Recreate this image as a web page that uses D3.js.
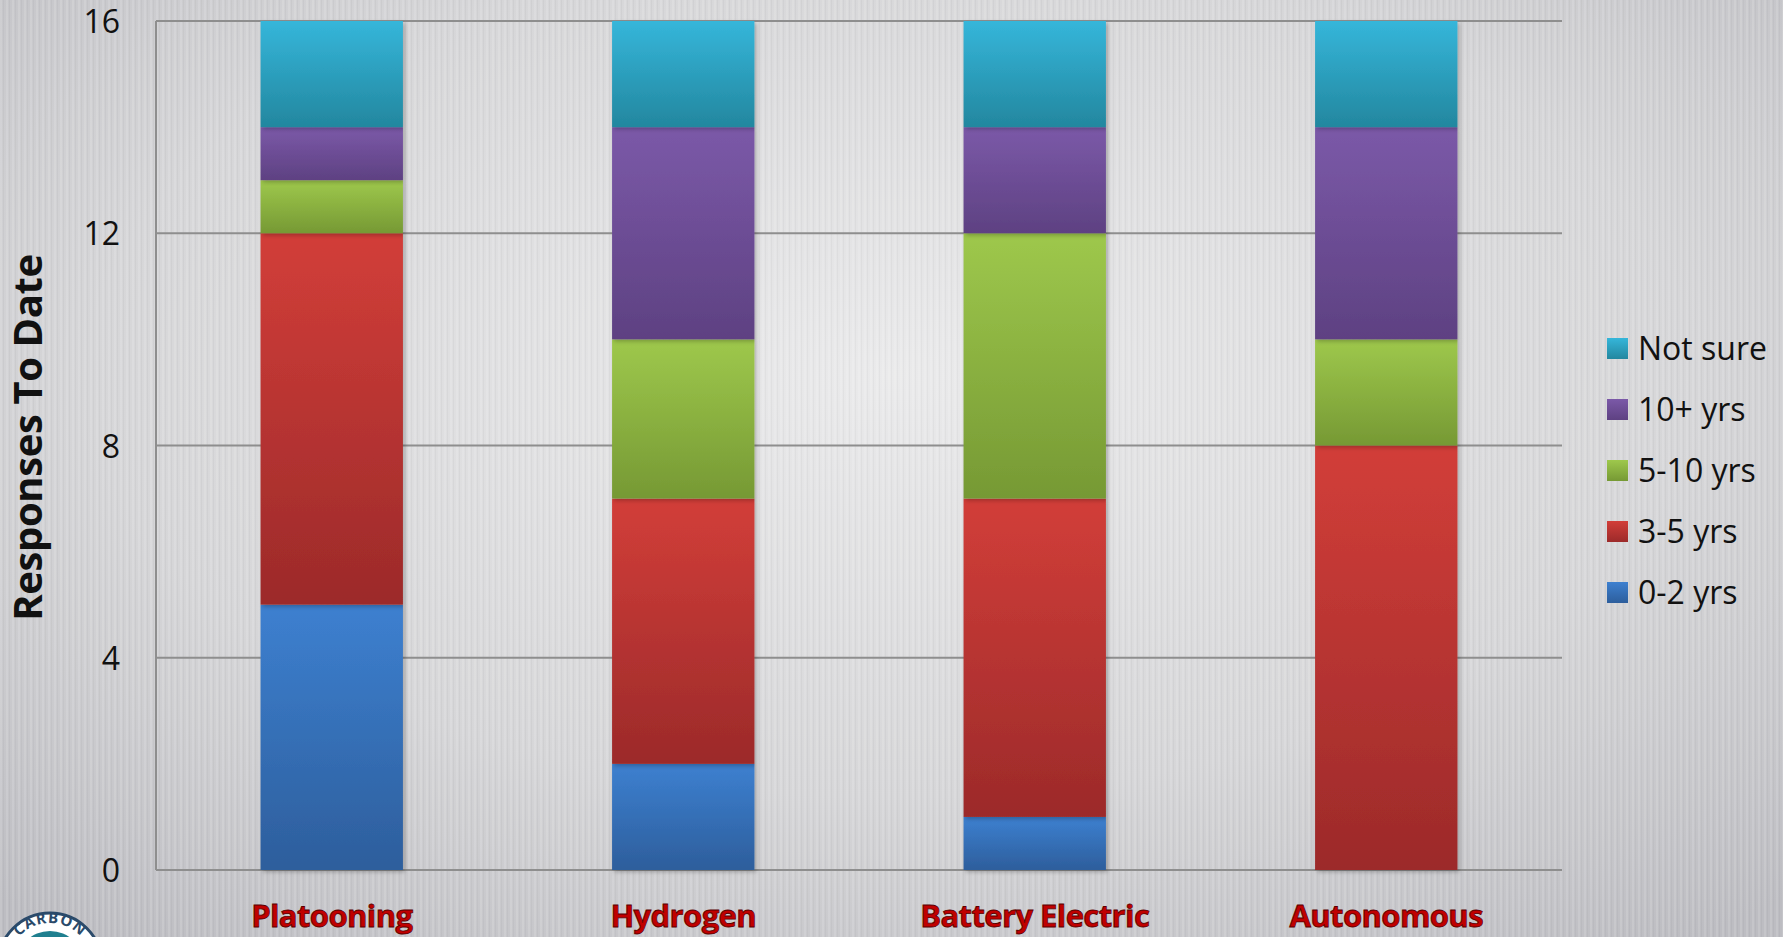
<!DOCTYPE html>
<html>
<head>
<meta charset="utf-8">
<script src="https://cdn.jsdelivr.net/npm/d3@7"></script>
<style>
  html, body { margin: 0; padding: 0; overflow: hidden; }
  svg { display: block; }
</style>
</head>
<body>
<svg id="chart" width="1783" height="937"></svg>
<script>
const categories = ["Platooning", "Hydrogen", "Battery Electric", "Autonomous"];
const seriesNames = ["0-2 yrs", "3-5 yrs", "5-10 yrs", "10+ yrs", "Not sure"];
const zeroToTwo = [5, 2, 1, 0];
const threeToFive = [7, 5, 6, 8];
const fiveToTen = [1, 3, 5, 2];
const tenPlus = [1, 4, 2, 4];
const notSure = [2, 2, 2, 2];
const yTicks = [0, 4, 8, 12, 16];

// top / bottom shade for each series gradient
const shades = {
  "0-2 yrs": ["#3d80d0", "#2d5e9c"],
  "3-5 yrs": ["#d23e39", "#9c2a2a"],
  "5-10 yrs": ["#9ec84c", "#769934"],
  "10+ yrs": ["#7b59a8", "#5e4182"],
  "Not sure": ["#35b6da", "#23879f"]
};

const rows = categories.map((c, i) => ({
  category: c,
  "0-2 yrs": zeroToTwo[i],
  "3-5 yrs": threeToFive[i],
  "5-10 yrs": fiveToTen[i],
  "10+ yrs": tenPlus[i],
  "Not sure": notSure[i]
}));

const svg = d3.select("#chart");
const width = 1783, height = 937;
const margin = { top: 21, right: 221, bottom: 67, left: 156 };
const innerW = width - margin.left - margin.right;
const innerH = height - margin.top - margin.bottom;

const defs = svg.append("defs");

// background: soft radial light in the middle, darker toward edges
const bg = defs.append("radialGradient").attr("id", "bg")
  .attr("cx", "50%").attr("cy", "40%").attr("r", "75%");
bg.append("stop").attr("offset", "0%").attr("stop-color", "#eaeaeb");
bg.append("stop").attr("offset", "60%").attr("stop-color", "#d6d6d8");
bg.append("stop").attr("offset", "100%").attr("stop-color", "#bdbdc2");

const stripes = defs.append("pattern").attr("id", "stripes")
  .attr("patternUnits", "userSpaceOnUse").attr("width", 6).attr("height", 10);
stripes.append("rect").attr("x", 0).attr("width", 2).attr("height", 10)
  .attr("fill", "#ffffff").attr("opacity", 0.12);
stripes.append("rect").attr("x", 3).attr("width", 1).attr("height", 10)
  .attr("fill", "#000000").attr("opacity", 0.03);

seriesNames.forEach((s, i) => {
  const lg = defs.append("linearGradient").attr("id", "grad" + i)
    .attr("x1", 0).attr("y1", 0).attr("x2", 0).attr("y2", 1);
  lg.append("stop").attr("offset", "0%").attr("stop-color", shades[s][0]);
  lg.append("stop").attr("offset", "100%").attr("stop-color", shades[s][1]);
});

const shadow = defs.append("filter").attr("id", "shadow")
  .attr("x", "-10%").attr("y", "-5%").attr("width", "130%").attr("height", "115%");
shadow.append("feDropShadow").attr("dx", 2).attr("dy", 2).attr("stdDeviation", 2)
  .attr("flood-color", "#000").attr("flood-opacity", 0.25);

svg.append("rect").attr("width", width).attr("height", height).attr("fill", "url(#bg)");
svg.append("rect").attr("width", width).attr("height", height).attr("fill", "url(#stripes)");

const g = svg.append("g").attr("transform", `translate(${margin.left},${margin.top})`);

const x = d3.scaleBand().domain(categories).range([0, innerW]).paddingInner(0.595).paddingOuter(0.2975);
const y = d3.scaleLinear().domain([0, 16]).range([innerH, 0]);

// gridlines
g.append("g").selectAll("line")
  .data(yTicks)
  .join("line")
  .attr("x1", 0).attr("x2", innerW)
  .attr("y1", d => y(d)).attr("y2", d => y(d))
  .attr("stroke", "#8e8e8e").attr("stroke-width", 2);

g.append("line")
  .attr("x1", 0).attr("x2", 0).attr("y1", 0).attr("y2", innerH)
  .attr("stroke", "#8e8e8e").attr("stroke-width", 2);

// y tick labels
const yAxis = g.append("g").call(d3.axisLeft(y).tickValues(yTicks).tickSize(0).tickPadding(36));
yAxis.select(".domain").remove();
yAxis.selectAll("text")
  .attr("font-family", "'Open Sans', sans-serif")
  .attr("font-size", 32)
  .attr("dy", "0.36em")
  .attr("fill", "#111");

// stacked bars
const stack = d3.stack().keys(seriesNames);
const layers = stack(rows);

g.append("g").selectAll("g")
  .data(layers)
  .join("g")
  .attr("fill", (d, i) => `url(#grad${i})`)
  .selectAll("rect")
  .data(d => d.filter(p => p[1] > p[0]))
  .join("rect")
  .attr("x", d => x(d.data.category))
  .attr("y", d => y(d[1]))
  .attr("width", x.bandwidth())
  .attr("height", d => y(d[0]) - y(d[1]))
  .attr("filter", "url(#shadow)");

// category labels
g.append("g").selectAll("text")
  .data(categories)
  .join("text")
  .attr("x", d => x(d) + x.bandwidth() / 2)
  .attr("y", innerH + 57)
  .attr("text-anchor", "middle")
  .attr("font-family", "'Open Sans', sans-serif")
  .attr("font-weight", "bold")
  .attr("font-size", 31)
  .attr("letter-spacing", -0.6)
  .attr("fill", "#c00000")
  .attr("stroke", "#5a0000")
  .attr("stroke-width", 0.8)
  .text(d => d);

// y axis title
svg.append("text")
  .attr("transform", `translate(42,${margin.top + innerH / 2 - 8}) rotate(-90)`)
  .attr("text-anchor", "middle")
  .attr("font-family", "'Open Sans', sans-serif")
  .attr("font-weight", "bold")
  .attr("font-size", 40)
  .attr("letter-spacing", -0.4)
  .attr("fill", "#111")
  .text("Responses To Date");

// legend (top to bottom in reverse stack order)
const legendItems = seriesNames.slice().reverse();
const legend = svg.append("g").attr("transform", "translate(1607,349)");
const li = legend.selectAll("g")
  .data(legendItems)
  .join("g")
  .attr("transform", (d, i) => `translate(0,${i * 61})`);
li.append("rect")
  .attr("x", 0).attr("y", -11).attr("width", 21).attr("height", 21)
  .attr("fill", d => `url(#grad${seriesNames.indexOf(d)})`);
li.append("text")
  .attr("x", 31).attr("y", 0)
  .attr("dy", "0.35em")
  .attr("font-family", "'Open Sans', sans-serif")
  .attr("font-size", 32)
  .attr("fill", "#111")
  .text(d => d);

// partial logo in the lower-left corner
const logo = svg.append("g").attr("transform", "translate(50,965)");
logo.append("circle").attr("r", 52).attr("fill", "#ffffff").attr("stroke", "#2a4a6a").attr("stroke-width", 3);
logo.append("circle").attr("r", 34).attr("fill", "#1f7f8f");
defs.append("path").attr("id", "logoArc")
  .attr("d", "M -42 0 A 42 42 0 0 1 42 0");
logo.append("text")
  .attr("font-family", "'Open Sans', sans-serif")
  .attr("font-size", 15)
  .attr("font-weight", "bold")
  .attr("fill", "#2a4a6a")
  .attr("letter-spacing", 1)
  .append("textPath")
  .attr("href", "#logoArc")
  .attr("startOffset", "50%")
  .attr("text-anchor", "middle")
  .text("CARBON");
</script>
</body>
</html>
